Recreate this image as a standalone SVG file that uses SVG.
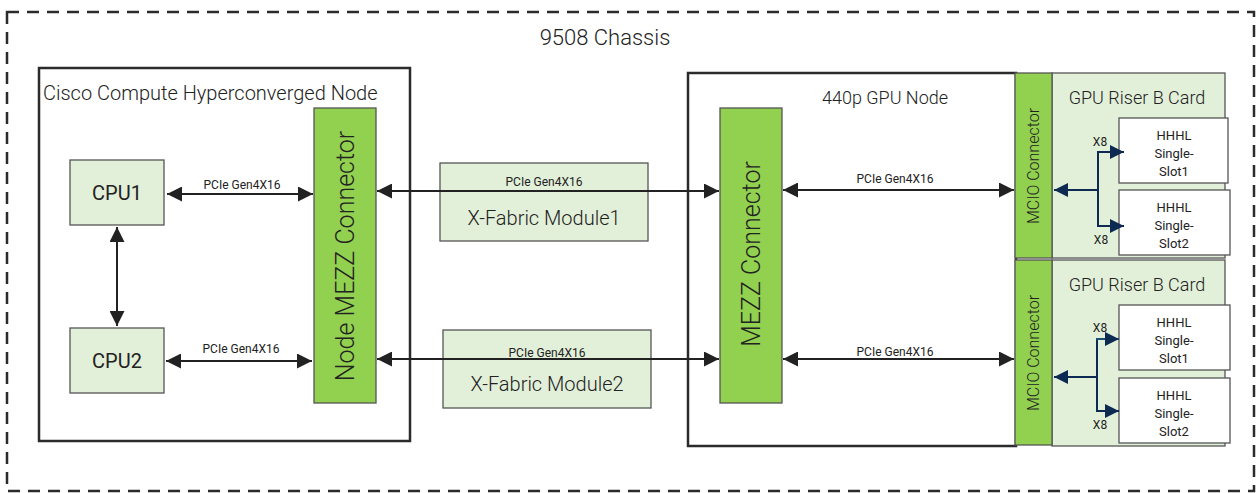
<svg xmlns="http://www.w3.org/2000/svg" width="1258" height="493" viewBox="0 0 1258 493">
<style>
text{font-family:Roboto,"Liberation Sans",sans-serif;fill:#222}
.box{fill:#fff;stroke:#2b2b2b;stroke-width:2.5}
.lg{fill:#e2f0d9;stroke:#555;stroke-width:1.3}
.gr{fill:#92d050;stroke:#555;stroke-width:1.3}
.wh{fill:#fff;stroke:#555;stroke-width:1.3}
.title{font-size:20px;font-weight:300}
.lbl{font-size:12px;text-anchor:middle}
.mid{text-anchor:middle}
.ln{stroke:#222;stroke-width:2;fill:none}
.bl{stroke:#0d2a52;stroke-width:2;fill:none}
</style>
<defs>
<marker id="ah" viewBox="0 0 10 10" refX="10" refY="5" markerWidth="7.5" markerHeight="7.5" markerUnits="strokeWidth" orient="auto-start-reverse"><path d="M0,0L10,5L0,10z" fill="#222"/></marker>
<marker id="bh" viewBox="0 0 10 10" refX="10" refY="5" markerWidth="7" markerHeight="8" markerUnits="strokeWidth" orient="auto-start-reverse"><path d="M0,0L10,5L0,10z" fill="#0d2a52"/></marker>
</defs>
<rect x="7" y="12" width="1247" height="479" fill="none" stroke="#2b2b2b" stroke-width="2.5" stroke-dasharray="12,8"/>
<text x="605" y="45" class="mid" style="font-size:22px;font-weight:300">9508 Chassis</text>

<g id="cisco-node">
<rect x="39" y="68" width="371" height="373" class="box"/>
<text x="43" y="100" class="title">Cisco Compute Hyperconverged Node</text>
</g>
<g id="cpu1"><rect x="70" y="160" width="94" height="65" class="lg"/><text x="117" y="200" class="mid" style="font-size:20px">CPU1</text></g>
<g id="cpu2"><rect x="70" y="328" width="94" height="65" class="lg"/><text x="117" y="368" class="mid" style="font-size:20px">CPU2</text></g>
<g id="node-mezz"><rect x="314" y="108" width="62" height="295" class="gr"/><text transform="translate(354,256) rotate(-90)" class="mid" style="font-size:25px;font-weight:300">Node MEZZ Connector</text></g>

<g id="xfm1"><rect x="440" y="163" width="208" height="78" class="lg"/><text x="544" y="186" class="lbl">PCIe Gen4X16</text><text x="544" y="225" class="mid" style="font-size:20px;font-weight:300">X-Fabric Module1</text></g>
<g id="xfm2"><rect x="443" y="330" width="208" height="78" class="lg"/><text x="547" y="357" class="lbl">PCIe Gen4X16</text><text x="547" y="391" class="mid" style="font-size:20px;font-weight:300">X-Fabric Module2</text></g>

<g id="gpu-node">
<rect x="688" y="73" width="328" height="373" class="box"/>
<text x="885" y="104" class="mid" style="font-size:18px;font-weight:300">440p GPU Node</text>
</g>
<g id="gpu-mezz"><rect x="720" y="108" width="62" height="295" class="gr"/><text transform="translate(760,254) rotate(-90)" class="mid" style="font-size:25px;font-weight:300">MEZZ Connector</text></g>

<g id="riser1">
<rect x="1052" y="73" width="173" height="185" class="lg"/>
<rect x="1015" y="73" width="37" height="185" class="gr"/>
<text transform="translate(1039,166) rotate(-90)" class="mid" style="font-size:16px;font-weight:300">MCIO Connector</text>
<text x="1137" y="104" class="mid" style="font-size:18px;font-weight:300">GPU Riser B Card</text>
</g>
<g id="slot1a"><rect x="1119" y="118" width="109" height="65" class="wh"/><text class="mid" style="font-size:13px"><tspan x="1174" y="140">HHHL</tspan><tspan x="1174" y="158">Single-</tspan><tspan x="1174" y="176">Slot1</tspan></text></g>
<g id="slot2a"><rect x="1119" y="190" width="111" height="65" class="wh"/><text class="mid" style="font-size:13px"><tspan x="1174" y="212">HHHL</tspan><tspan x="1174" y="230">Single-</tspan><tspan x="1174" y="248">Slot2</tspan></text></g>

<g id="riser2">
<rect x="1052" y="260" width="173" height="186" class="lg"/>
<rect x="1015" y="260" width="37" height="185" class="gr"/>
<text transform="translate(1039,353) rotate(-90)" class="mid" style="font-size:16px;font-weight:300">MCIO Connector</text>
<text x="1137" y="291" class="mid" style="font-size:18px;font-weight:300">GPU Riser B Card</text>
</g>
<g id="slot1b"><rect x="1119" y="305" width="111" height="65" class="wh"/><text class="mid" style="font-size:13px"><tspan x="1174" y="327">HHHL</tspan><tspan x="1174" y="345">Single-</tspan><tspan x="1174" y="363">Slot1</tspan></text></g>
<g id="slot2b"><rect x="1119" y="378" width="111" height="65" class="wh"/><text class="mid" style="font-size:13px"><tspan x="1174" y="400">HHHL</tspan><tspan x="1174" y="418">Single-</tspan><tspan x="1174" y="436">Slot2</tspan></text></g>

<g id="connectors">
<line x1="117" y1="227" x2="117" y2="326" class="ln" marker-start="url(#ah)" marker-end="url(#ah)"/>
<line x1="167" y1="194" x2="313" y2="194" class="ln" marker-start="url(#ah)" marker-end="url(#ah)"/>
<text x="242" y="189" class="lbl">PCIe Gen4X16</text>
<line x1="166" y1="361" x2="312" y2="361" class="ln" marker-start="url(#ah)" marker-end="url(#ah)"/>
<text x="241" y="353" class="lbl">PCIe Gen4X16</text>
<line x1="377" y1="191" x2="719" y2="191" class="ln" marker-start="url(#ah)" marker-end="url(#ah)"/>
<line x1="377" y1="359" x2="719" y2="359" class="ln" marker-start="url(#ah)" marker-end="url(#ah)"/>
<line x1="783" y1="190" x2="1014" y2="190" class="ln" marker-start="url(#ah)" marker-end="url(#ah)"/>
<text x="895" y="183" class="lbl">PCIe Gen4X16</text>
<line x1="783" y1="359" x2="1014" y2="359" class="ln" marker-start="url(#ah)" marker-end="url(#ah)"/>
<text x="895" y="356" class="lbl">PCIe Gen4X16</text>

<line x1="1098" y1="190" x2="1054" y2="190" class="bl" marker-end="url(#bh)"/>
<path d="M1098,152V226" class="bl"/>
<line x1="1097" y1="152" x2="1124" y2="152" class="bl" marker-end="url(#bh)"/>
<line x1="1097" y1="226" x2="1124" y2="226" class="bl" marker-end="url(#bh)"/>
<text x="1100" y="146" class="lbl">X8</text>
<text x="1101" y="244" class="lbl">X8</text>

<line x1="1097" y1="377" x2="1054" y2="377" class="bl" marker-end="url(#bh)"/>
<path d="M1097,339V411" class="bl"/>
<line x1="1096" y1="339" x2="1119" y2="339" class="bl" style="stroke:#1b4f72" marker-end="url(#bh)"/>
<line x1="1096" y1="411" x2="1119" y2="411" class="bl" marker-end="url(#bh)"/>
<text x="1100" y="332" class="lbl">X8</text>
<text x="1100" y="429" class="lbl">X8</text>
</g>
</svg>
